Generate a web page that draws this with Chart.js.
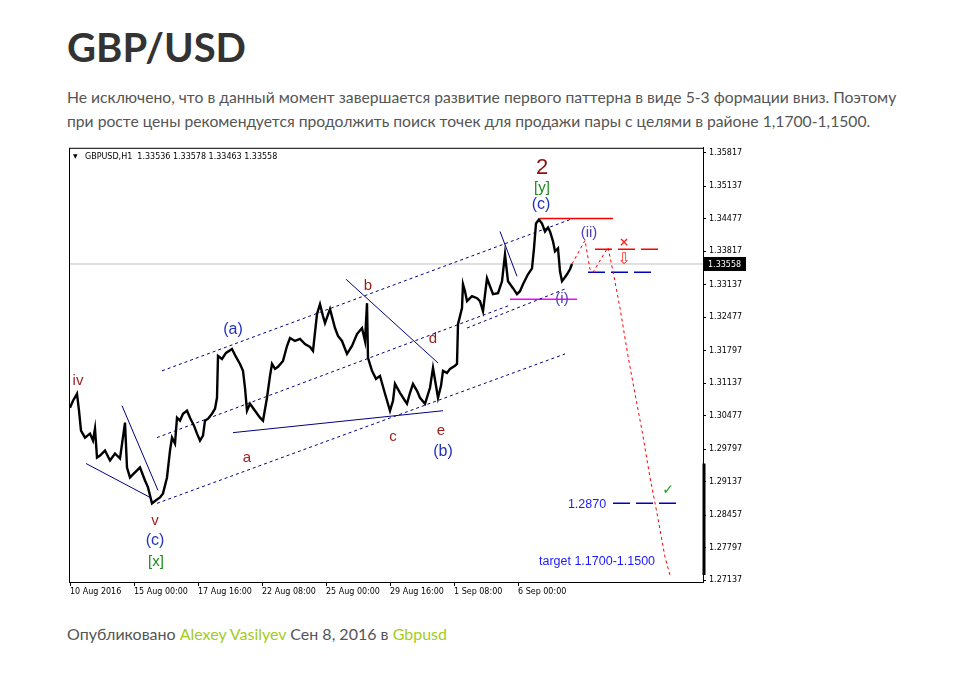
<!DOCTYPE html>
<html lang="ru">
<head>
<meta charset="utf-8">
<title>GBP/USD</title>
<script src="https://cdn.jsdelivr.net/npm/chart.js@4.4.1/dist/chart.umd.min.js"></script>
<style>
  body { margin: 0; background: #fff; font-family: Lato, "Open Sans", sans-serif; }
  h1 { position: absolute; left: 67px; top: 27px; margin: 0; font-size: 40px; line-height: 40px; font-weight: 700; color: #333; }
  .lead { position: absolute; left: 67px; top: 85px; margin: 0; font-size: 15.7px; line-height: 24px; color: #555; white-space: nowrap; }
  #wrap { position: absolute; left: 60px; top: 140px; width: 710px; height: 465px; }
  .meta { position: absolute; left: 67px; top: 622px; margin: 0; font-size: 16px; line-height: 24px; color: #555; white-space: nowrap; }
  .meta a { color: #a2cc1c; text-decoration: none; }
</style>
</head>
<body>
<h1>GBP/USD</h1>
<p class="lead">Не исключено, что в данный момент завершается развитие первого паттерна в виде 5-3 формации вниз. Поэтому<br>при росте цены рекомендуется продолжить поиск точек для продажи пары с целями в районе 1,1700-1,1500.</p>
<div id="wrap"><canvas id="chart" width="710" height="465"></canvas></div>
<p class="meta">Опубликовано <a href="#">Alexey Vasilyev</a> Сен 8, 2016 в <a href="#">Gbpusd</a></p>

<script>
// H1 bars counted from 10 Aug 2016 08:00, closes
const priceBars = [0, 3, 7, 9, 11, 15, 20, 23, 25, 27, 30, 35, 40, 45, 50, 55, 57, 60, 65, 70, 75, 78, 82, 86, 90, 93, 97,
  100, 102, 105, 107, 110, 113, 117, 120, 124, 127, 130, 133, 135, 138, 142, 145, 147, 148, 152, 156, 162, 166, 170, 173,
  175, 177, 180, 185, 190, 193, 197, 200, 202, 205, 208, 213, 217, 220, 225, 230, 235, 240, 243, 247, 250, 253, 255, 260,
  265, 268, 272, 277, 282, 287, 292, 295, 297, 298, 302, 306, 310, 315, 320, 323, 325, 330, 335, 337, 340, 343, 347, 350,
  355, 360, 363, 366, 368, 371, 373, 377, 380, 385, 387, 388, 390, 392, 393, 395, 397, 402, 407, 410, 413, 417, 420, 423,
  428, 432, 435, 438, 443, 447, 450, 453, 458, 462, 464, 466, 469, 472, 475, 478, 480, 483, 485, 488, 490, 492, 495, 497,
  500, 502];
const priceCloses = [1.30638, 1.30780, 1.30921, 1.30577, 1.30173, 1.30031, 1.30112, 1.29971, 1.30213, 1.29627, 1.29667,
  1.29768, 1.29566, 1.29708, 1.29606, 1.30335, 1.29424, 1.29222, 1.29323, 1.29424, 1.29161, 1.29020, 1.28696, 1.28757,
  1.28817, 1.28898, 1.29222, 1.29768, 1.30031, 1.29910, 1.30436, 1.30375, 1.30517, 1.30577, 1.30436, 1.30274, 1.30112,
  1.29971, 1.30072, 1.30375, 1.30416, 1.30517, 1.30618, 1.30840, 1.31690, 1.31629, 1.31751, 1.31832, 1.31670, 1.31528,
  1.31387, 1.31043, 1.30577, 1.30719, 1.30577, 1.30436, 1.30375, 1.30840, 1.31285, 1.31528, 1.31427, 1.31468, 1.31589,
  1.31892, 1.32054, 1.31994, 1.32034, 1.31933, 1.31872, 1.31791, 1.32540, 1.32742, 1.32499, 1.32358, 1.32641, 1.32257,
  1.32095, 1.31994, 1.31731, 1.31892, 1.32135, 1.32257, 1.31994, 1.32762, 1.31650, 1.31387, 1.31225, 1.31285, 1.30921,
  1.30577, 1.30780, 1.31124, 1.30942, 1.30780, 1.30719, 1.30942, 1.31124, 1.30982, 1.30840, 1.30719, 1.31043, 1.31447,
  1.31083, 1.30840, 1.31083, 1.31387, 1.31346, 1.31427, 1.31488, 1.31528, 1.32337, 1.32499, 1.32661, 1.33147, 1.33005,
  1.32803, 1.32904, 1.32863, 1.32803, 1.32600, 1.33268, 1.33106, 1.32944, 1.32965, 1.33207, 1.33754, 1.33207, 1.33066,
  1.32944, 1.33005, 1.33147, 1.33349, 1.33470, 1.33875, 1.34381, 1.34462, 1.34381, 1.34219, 1.34300, 1.34219, 1.34017,
  1.33814, 1.33875, 1.33410, 1.33207, 1.33288, 1.33349, 1.33450, 1.33558];
const lastClose = 1.33558;
const headerText = 'GBPUSD,H1  1.33536 1.33578 1.33463 1.33558';

const yTickValues = [1.27137, 1.27797, 1.28457, 1.29137, 1.29797, 1.30477, 1.31137, 1.31797, 1.32477, 1.33137, 1.33817,
  1.34477, 1.35137, 1.35817];
const xTickBars = [0, 64, 128, 192, 256, 320, 384, 448];
const xTickLabels = ['10 Aug 2016', '15 Aug 00:00', '17 Aug 16:00', '22 Aug 08:00', '25 Aug 00:00', '29 Aug 16:00',
  '1 Sep 08:00', '6 Sep 00:00'];

// trend channel (dotted) lines: [bar, price] pairs
const channelUpper = [[92, 1.31387], [503, 1.34482]];
const channelMiddle = [[87, 1.30031], [440, 1.32722]];
const channelLower = [[87, 1.28696], [495, 1.31731]];
const channelMinor = [[397, 1.32257], [497, 1.33066]];
// solid trend lines
const trendLines = [
  [[16, 1.29505], [80, 1.28817]],
  [[52, 1.30679], [88, 1.28959]],
  [[163, 1.30132], [373, 1.30577]],
  [[276, 1.33248], [368, 1.31548]],
  [[430, 1.34219], [447, 1.33308]]
];
const highLevel = [[470, 1.34482], [543, 1.34482]];
const waveOneLow = [[440, 1.32843], [507, 1.32843]];
const stopLevel = [[525, 1.33855], [590, 1.33855]];
const entryLevel = [[518, 1.33389], [585, 1.33389]];
const supportLevel = [[543, 1.2870], [610, 1.2870]];
const scrollMark = [[634, 1.29505], [634, 1.27239]];

// forecast path
const forecastBars = [502, 515, 520, 523, 538, 544, 550, 558, 565, 572, 580, 587, 595, 600];
const forecastPrices = [1.33558, 1.34037, 1.33450, 1.33389, 1.33895, 1.33308, 1.32661, 1.31690, 1.30921, 1.30173,
  1.29222, 1.28494, 1.27604, 1.27239];

// wave labels
const minorText = ['iv', 'v', 'a', 'b', 'c', 'd', 'e'];
const minorBars = [8, 85, 177, 298, 323, 363, 371];
const minorPrices = [1.31184, 1.28332, 1.29627, 1.33106, 1.30051, 1.32034, 1.30173];
const interText = ['(c)', '(a)', '(b)', '(c)'];
const interBars = [85, 163, 373, 471];
const interPrices = [1.27948, 1.32216, 1.29748, 1.34765];
const primaryText = ['[x]', '[y]'];
const primaryBars = [86, 472];
const primaryPrices = [1.27502, 1.35109];
const cycleText = ['2'];
const cycleBars = [472];
const cyclePrices = [1.35514];
const minuteText = ['(i)', '(ii)'];
const minuteBars = [492, 519];
const minutePrices = [1.32843, 1.34199];
const levelText = ['1.2870', 'target 1.1700-1.1500'];
const levelBars = [517, 527];
const levelPrices = [1.28676, 1.27523];
const crossText = ['×'];
const crossBars = [554];
const crossPrices = [1.33996];
const arrowText = ['⇩'];
const arrowBars = [554];
const arrowPrices = [1.33652];
const checkText = ['✓'];
const checkBars = [598];
const checkPrices = [1.28959];

const toPoints = pairs => pairs.map(([x, y]) => ({ x: x, y: y }));
function lineSet(pairs, color, width, dash, clip) {
  return {
    data: toPoints(pairs), borderColor: color, borderWidth: width, borderDash: dash || [],
    pointRadius: 0, tension: 0, fill: false, clip: clip === undefined ? 0 : clip
  };
}

const datasets = [
  { data: priceBars.map((b, i) => ({ x: b, y: priceCloses[i] })), borderColor: '#000', borderWidth: 2.4,
    pointRadius: 0, tension: 0, fill: false },
  lineSet(forecastBars.map((b, i) => [b, forecastPrices[i]]), '#ff0000', 1, [3, 3]),
  lineSet(channelUpper, '#000080', 1, [3, 3]),
  lineSet(channelMiddle, '#000080', 1, [3, 3]),
  lineSet(channelLower, '#000080', 1, [3, 3]),
  lineSet(channelMinor, '#000080', 1, [3, 3]),
  ...trendLines.map(t => lineSet(t, '#000080', 1)),
  lineSet(highLevel, '#ff0000', 1.5),
  lineSet(waveOneLow, '#ff00ff', 1.5),
  lineSet(stopLevel, '#ff0000', 1.5, [17, 6]),
  lineSet(entryLevel, '#0000c0', 1.5, [17, 6]),
  lineSet(supportLevel, '#0000c0', 1.5, [17, 6]),
  lineSet([[-1, lastClose], [633, lastClose]], '#c0c0c0', 1),
  lineSet(scrollMark, '#000', 3, [], false)
];

const labelGroups = [
  { texts: minorText, bars: minorBars, prices: minorPrices, font: '15px "Liberation Sans", Arial', color: '#9b1c1c' },
  { texts: interText, bars: interBars, prices: interPrices, font: '16px "Liberation Sans", Arial', color: '#2233bb' },
  { texts: primaryText, bars: primaryBars, prices: primaryPrices, font: '15px "Liberation Sans", Arial', color: '#1e8c1e' },
  { texts: cycleText, bars: cycleBars, prices: cyclePrices, font: '22px "Liberation Sans", Arial', color: '#8b1010' },
  { texts: minuteText, bars: minuteBars, prices: minutePrices, font: '15px "Liberation Sans", Arial', color: '#4b3fbf' },
  { texts: levelText, bars: levelBars, prices: levelPrices, font: '12.5px "Liberation Sans", Arial', color: '#1a1aff' },
  { texts: crossText, bars: crossBars, prices: crossPrices, font: 'bold 12px "DejaVu Sans"', color: '#ff2020' },
  { texts: arrowText, bars: arrowBars, prices: arrowPrices, font: '16px "DejaVu Sans"', color: '#ff3030' },
  { texts: checkText, bars: checkBars, prices: checkPrices, font: 'bold 14px "DejaVu Sans"', color: '#1e9c1e' }
];

const overlay = {
  id: 'overlay',
  afterDraw(chart) {
    const { ctx, chartArea: area, scales: { x, y } } = chart;
    ctx.save();
    // frame
    ctx.strokeStyle = '#000';
    ctx.lineWidth = 1;
    ctx.strokeRect(area.left + 0.5, area.top + 0.5, area.width, area.height);
    // labels
    ctx.textAlign = 'center';
    ctx.textBaseline = 'middle';
    labelGroups.forEach(g => {
      ctx.font = g.font;
      ctx.fillStyle = g.color;
      g.texts.forEach((t, i) => ctx.fillText(t, x.getPixelForValue(g.bars[i]), y.getPixelForValue(g.prices[i])));
    });
    // symbol header
    ctx.textAlign = 'left';
    ctx.fillStyle = '#000';
    ctx.font = '6px "DejaVu Sans"';
    ctx.fillText('▼', area.left + 4, area.top + 9);
    ctx.font = '8px "DejaVu Sans"';
    ctx.fillText(headerText, area.left + 16, area.top + 9);
    // current price tag
    const py = y.getPixelForValue(lastClose);
    ctx.fillRect(area.right, py - 7, 43, 14);
    ctx.fillStyle = '#fff';
    ctx.fillText(lastClose.toFixed(5), area.right + 5, py + 0.5);
    ctx.restore();
  }
};

new Chart(document.getElementById('chart'), {
  type: 'line',
  data: { datasets: datasets },
  options: {
    responsive: false,
    animation: false,
    layout: { padding: { left: 9, top: 6, right: 0, bottom: 0 } },
    plugins: { legend: { display: false }, tooltip: { enabled: false } },
    scales: {
      x: {
        type: 'linear', min: -1, max: 633,
        afterBuildTicks: s => { s.ticks = xTickBars.map(v => ({ value: v })); },
        afterFit: s => { s.height = 23; },
        grid: { drawOnChartArea: false, tickLength: 4, color: '#000' },
        border: { display: true, color: '#000' },
        ticks: {
          autoSkip: false, maxRotation: 0, align: 'start', padding: 1, color: '#000',
          font: { family: '"DejaVu Sans"', size: 8 },
          callback: v => { const i = xTickBars.indexOf(v); return i < 0 ? '' : xTickLabels[i]; }
        }
      },
      y: {
        position: 'right', min: 1.27098, max: 1.35918,
        afterBuildTicks: s => { s.ticks = yTickValues.map(v => ({ value: v })); },
        afterFit: s => { s.width = 67; },
        grid: { drawOnChartArea: false, tickLength: 3, color: '#000' },
        border: { display: true, color: '#000' },
        ticks: {
          padding: 3, color: '#000',
          font: { family: '"DejaVu Sans"', size: 8 },
          callback: v => v.toFixed(5)
        }
      }
    }
  },
  plugins: [overlay]
});
</script>
</body>
</html>
